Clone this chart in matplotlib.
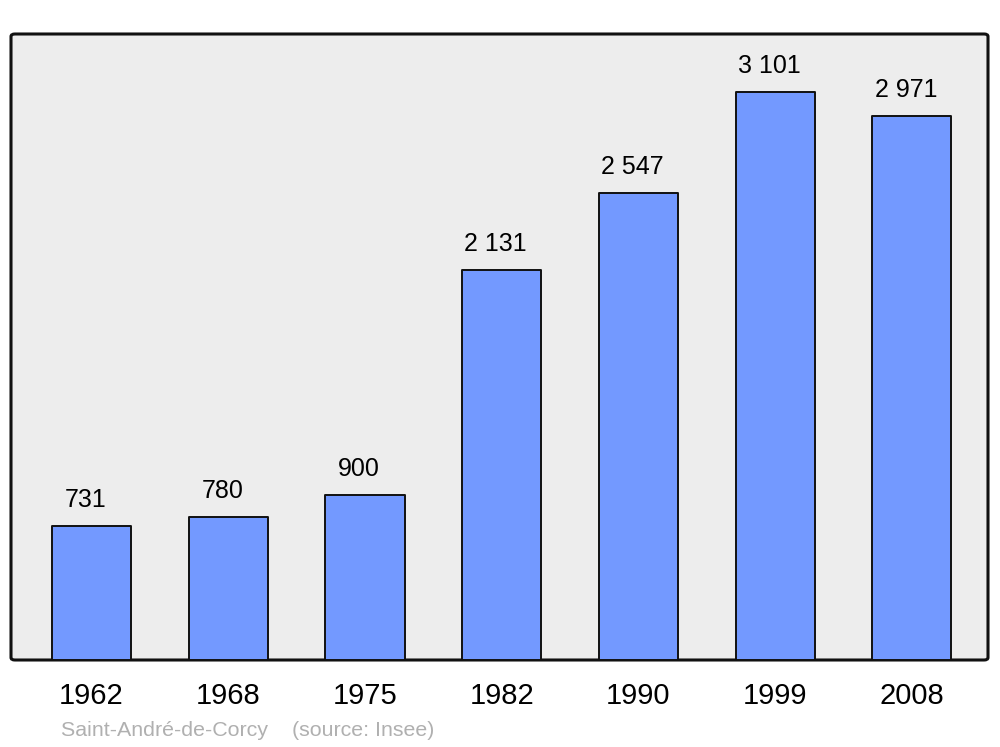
import matplotlib
matplotlib.use("Agg")
import matplotlib.pyplot as plt
from matplotlib.patches import FancyBboxPatch

years = ["1962", "1968", "1975", "1982", "1990", "1999", "2008"]
population = [731, 780, 900, 2131, 2547, 3101, 2971]
value_labels = ["731", "780", "900", "2 131", "2 547", "3 101", "2 971"]

plt.rcParams['font.family'] = ['Liberation Sans', 'DejaVu Sans']

fig = plt.figure(figsize=(10, 7.47), dpi=100)
ax = fig.add_axes([0.011, (747 - 660) / 747, 0.977, (660 - 34) / 747])
ax.set_facecolor('none')

x = list(range(len(years)))
bars = ax.bar(x, population, width=0.578, color='#7399ff', edgecolor='#111111',
              linewidth=1.4, zorder=3)
for b in bars:
    b.set_joinstyle('round')

ax.set_xlim(-0.589, 6.556)
ax.set_ylim(0, 3417)

# background frame with rounded corners
frame = FancyBboxPatch((0, 0), 1, 1, boxstyle="round,pad=0,rounding_size=0.004",
                       transform=ax.transAxes, facecolor='#ededed',
                       edgecolor='#111111', linewidth=2.2, zorder=0, clip_on=False)
ax.add_patch(frame)
for s in ax.spines.values():
    s.set_visible(False)

for xi, v, lab in zip(x, population, value_labels):
    ax.annotate(lab, (xi, v), xytext=(-6, 26), textcoords='offset pixels',
                ha='center', va='center', fontsize=18, color='black', zorder=4)

ax.set_yticks([])
ax.set_xticks(x)
ax.set_xticklabels(years, fontsize=21)
ax.tick_params(axis='x', length=0, pad=16)

fig.text(0.061, (747 - 730) / 747, "Saint-André-de-Corcy    (source: Insee)",
         fontsize=15.4, color='#b0b0b0', ha='left', va='center')

fig.savefig("out.png", dpi=100, facecolor='white')
